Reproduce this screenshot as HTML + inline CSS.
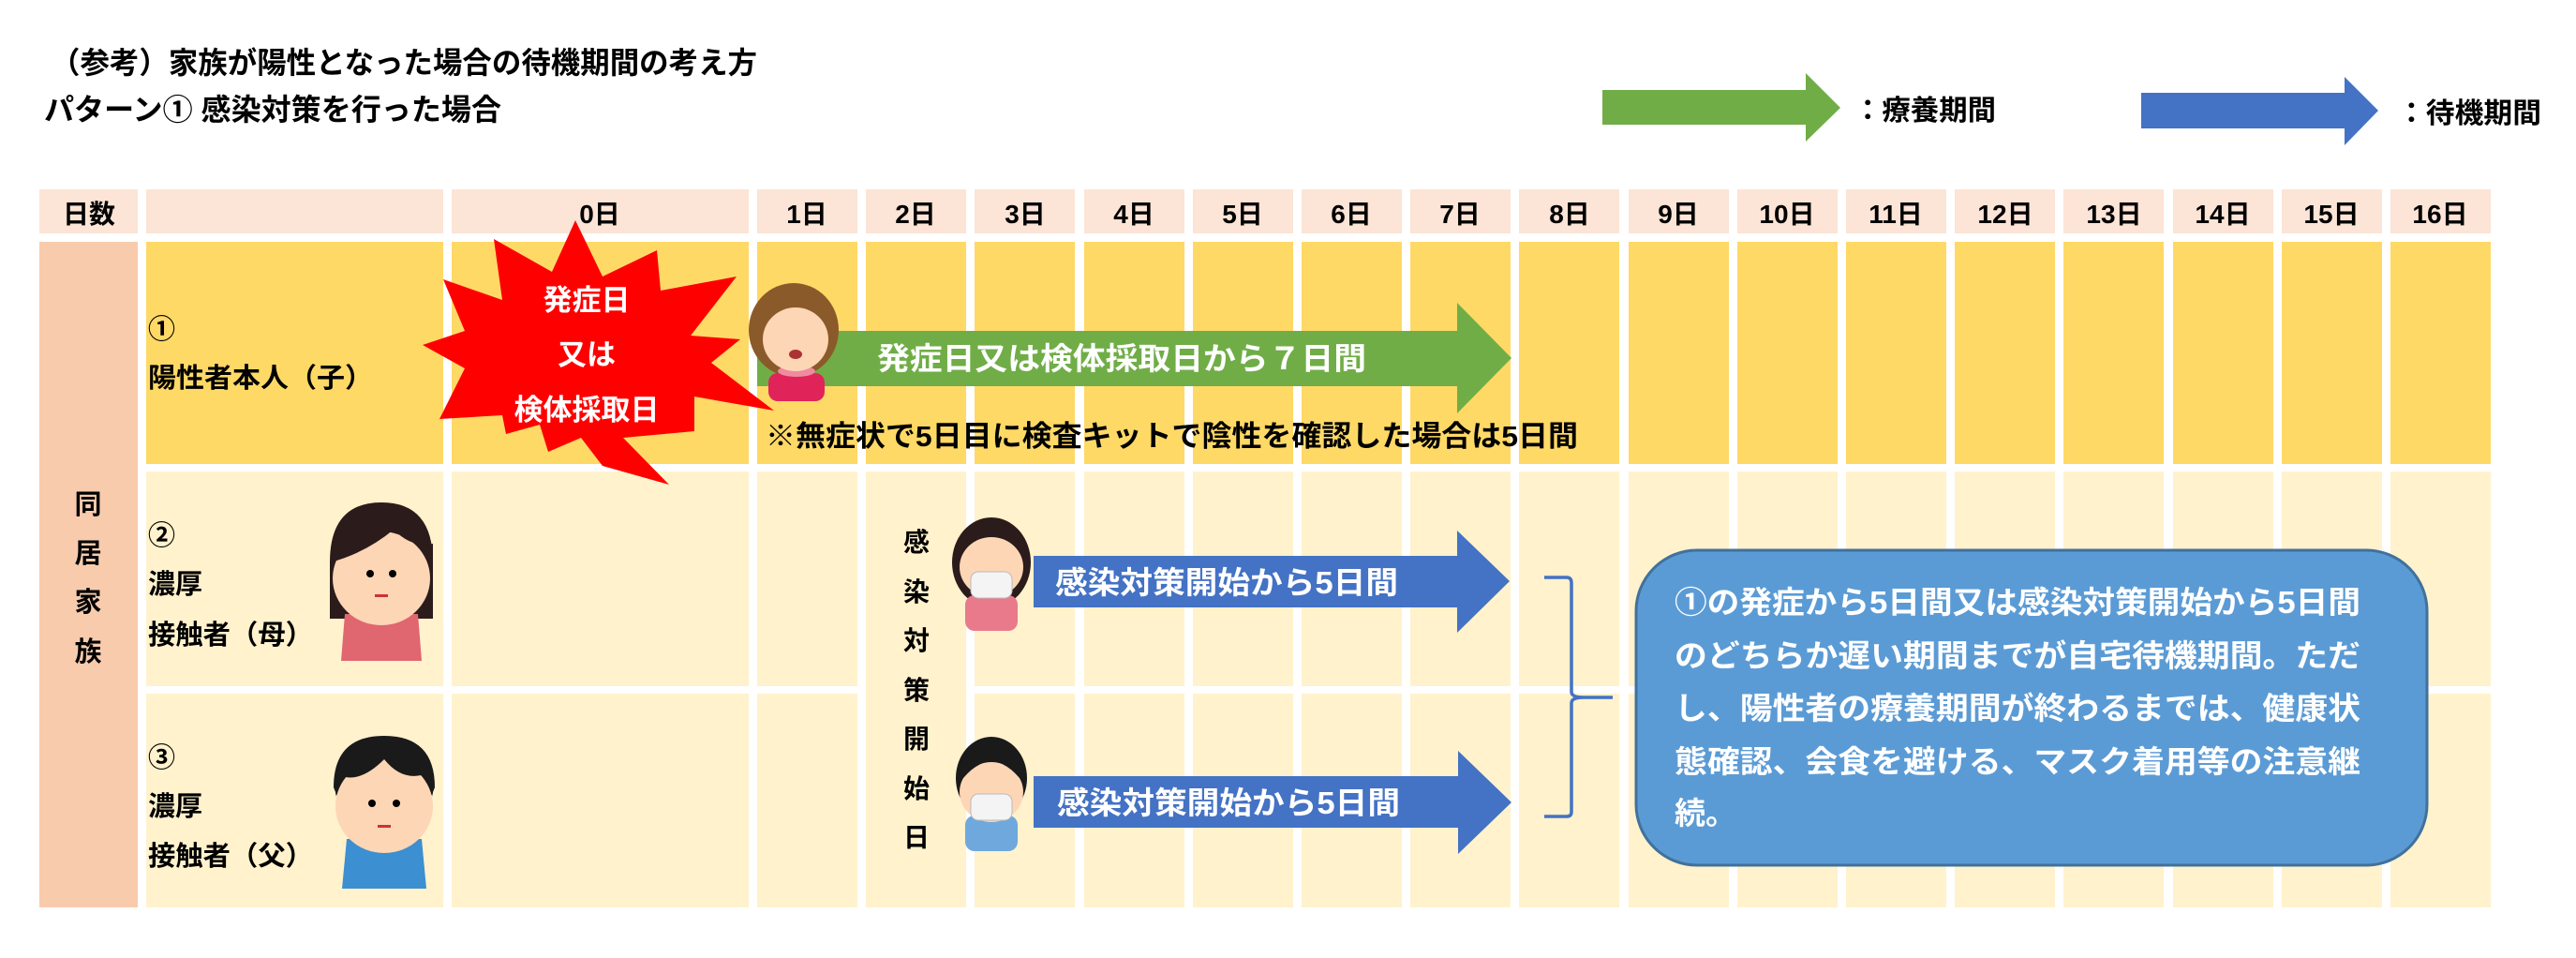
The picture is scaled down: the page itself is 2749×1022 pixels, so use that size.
<!DOCTYPE html>
<html><head><meta charset="utf-8"><style>
html,body{margin:0;padding:0;background:#fff;}
svg{display:block;}
text{font-family:"Liberation Sans","Noto Sans CJK JP",sans-serif;}
.b{font-weight:bold;}
</style></head><body>
<svg width="2749" height="1022" viewBox="0 0 2749 1022" xmlns="http://www.w3.org/2000/svg">
<rect width="2749" height="1022" fill="#fff"/>
<!-- titles -->
<text x="54" y="78" font-size="32" class="b" fill="#000" textLength="754" lengthAdjust="spacingAndGlyphs">（参考）家族が陽性となった場合の待機期間の考え方</text>
<text x="47" y="128" font-size="32" class="b" fill="#000" textLength="488" lengthAdjust="spacingAndGlyphs">パターン① 感染対策を行った場合</text>
<!-- legend -->
<polygon points="1710,96 1927,96 1927,78 1964,115 1927,151 1927,133 1710,133" fill="#70ad47"/>
<text x="1978" y="128" font-size="30" class="b" textLength="152" lengthAdjust="spacingAndGlyphs">：療養期間</text>
<polygon points="2285,99 2502,99 2502,82 2538,118 2502,155 2502,137 2285,137" fill="#4472c4"/>
<text x="2558" y="131" font-size="30" class="b" textLength="154" lengthAdjust="spacingAndGlyphs">：待機期間</text>
<!-- header row -->
<g fill="#fce4d6">
<rect x="42" y="202" width="105" height="47"/>
<rect x="156" y="202" width="317" height="47"/>
<rect x="482" y="202" width="317" height="47"/>
</g>
<!-- body left -->
<rect x="42" y="258" width="105" height="710" fill="#f8cbad"/>
<rect x="156" y="258" width="317" height="237" fill="#ffd966"/>
<rect x="482" y="258" width="317" height="237" fill="#ffd966"/>
<rect x="156" y="503" width="317" height="229" fill="#fff2cc"/>
<rect x="482" y="503" width="317" height="229" fill="#fff2cc"/>
<rect x="156" y="740" width="317" height="228" fill="#fff2cc"/>
<rect x="482" y="740" width="317" height="228" fill="#fff2cc"/>
<g id="days">
<rect x="808" y="202" width="107" height="47" fill="#fce4d6"/><rect x="808" y="258" width="107" height="237" fill="#ffd966"/><rect x="808" y="503" width="107" height="229" fill="#fff2cc"/><rect x="808" y="740" width="107" height="228" fill="#fff2cc"/>
<rect x="924" y="202" width="107" height="47" fill="#fce4d6"/><rect x="924" y="258" width="107" height="237" fill="#ffd966"/><rect x="924" y="503" width="107" height="465" fill="#fff2cc"/>
<rect x="1040" y="202" width="107" height="47" fill="#fce4d6"/><rect x="1040" y="258" width="107" height="237" fill="#ffd966"/><rect x="1040" y="503" width="107" height="229" fill="#fff2cc"/><rect x="1040" y="740" width="107" height="228" fill="#fff2cc"/>
<rect x="1157" y="202" width="107" height="47" fill="#fce4d6"/><rect x="1157" y="258" width="107" height="237" fill="#ffd966"/><rect x="1157" y="503" width="107" height="229" fill="#fff2cc"/><rect x="1157" y="740" width="107" height="228" fill="#fff2cc"/>
<rect x="1273" y="202" width="107" height="47" fill="#fce4d6"/><rect x="1273" y="258" width="107" height="237" fill="#ffd966"/><rect x="1273" y="503" width="107" height="229" fill="#fff2cc"/><rect x="1273" y="740" width="107" height="228" fill="#fff2cc"/>
<rect x="1389" y="202" width="107" height="47" fill="#fce4d6"/><rect x="1389" y="258" width="107" height="237" fill="#ffd966"/><rect x="1389" y="503" width="107" height="229" fill="#fff2cc"/><rect x="1389" y="740" width="107" height="228" fill="#fff2cc"/>
<rect x="1505" y="202" width="107" height="47" fill="#fce4d6"/><rect x="1505" y="258" width="107" height="237" fill="#ffd966"/><rect x="1505" y="503" width="107" height="229" fill="#fff2cc"/><rect x="1505" y="740" width="107" height="228" fill="#fff2cc"/>
<rect x="1621" y="202" width="107" height="47" fill="#fce4d6"/><rect x="1621" y="258" width="107" height="237" fill="#ffd966"/><rect x="1621" y="503" width="107" height="229" fill="#fff2cc"/><rect x="1621" y="740" width="107" height="228" fill="#fff2cc"/>
<rect x="1738" y="202" width="107" height="47" fill="#fce4d6"/><rect x="1738" y="258" width="107" height="237" fill="#ffd966"/><rect x="1738" y="503" width="107" height="229" fill="#fff2cc"/><rect x="1738" y="740" width="107" height="228" fill="#fff2cc"/>
<rect x="1854" y="202" width="107" height="47" fill="#fce4d6"/><rect x="1854" y="258" width="107" height="237" fill="#ffd966"/><rect x="1854" y="503" width="107" height="229" fill="#fff2cc"/><rect x="1854" y="740" width="107" height="228" fill="#fff2cc"/>
<rect x="1970" y="202" width="107" height="47" fill="#fce4d6"/><rect x="1970" y="258" width="107" height="237" fill="#ffd966"/><rect x="1970" y="503" width="107" height="229" fill="#fff2cc"/><rect x="1970" y="740" width="107" height="228" fill="#fff2cc"/>
<rect x="2086" y="202" width="107" height="47" fill="#fce4d6"/><rect x="2086" y="258" width="107" height="237" fill="#ffd966"/><rect x="2086" y="503" width="107" height="229" fill="#fff2cc"/><rect x="2086" y="740" width="107" height="228" fill="#fff2cc"/>
<rect x="2202" y="202" width="107" height="47" fill="#fce4d6"/><rect x="2202" y="258" width="107" height="237" fill="#ffd966"/><rect x="2202" y="503" width="107" height="229" fill="#fff2cc"/><rect x="2202" y="740" width="107" height="228" fill="#fff2cc"/>
<rect x="2319" y="202" width="107" height="47" fill="#fce4d6"/><rect x="2319" y="258" width="107" height="237" fill="#ffd966"/><rect x="2319" y="503" width="107" height="229" fill="#fff2cc"/><rect x="2319" y="740" width="107" height="228" fill="#fff2cc"/>
<rect x="2435" y="202" width="107" height="47" fill="#fce4d6"/><rect x="2435" y="258" width="107" height="237" fill="#ffd966"/><rect x="2435" y="503" width="107" height="229" fill="#fff2cc"/><rect x="2435" y="740" width="107" height="228" fill="#fff2cc"/>
<rect x="2551" y="202" width="107" height="47" fill="#fce4d6"/><rect x="2551" y="258" width="107" height="237" fill="#ffd966"/><rect x="2551" y="503" width="107" height="229" fill="#fff2cc"/><rect x="2551" y="740" width="107" height="228" fill="#fff2cc"/>
</g>
<!-- header labels -->
<g font-size="28" class="b" text-anchor="middle" fill="#000">
<text x="95" y="238">日数</text>
<text x="640" y="238">0日</text>
<text x="861" y="238">1日</text><text x="977" y="238">2日</text><text x="1094" y="238">3日</text><text x="1210" y="238">4日</text>
<text x="1326" y="238">5日</text><text x="1442" y="238">6日</text><text x="1558" y="238">7日</text><text x="1675" y="238">8日</text>
<text x="1791" y="238">9日</text><text x="1907" y="238">10日</text><text x="2023" y="238">11日</text><text x="2140" y="238">12日</text>
<text x="2256" y="238">13日</text><text x="2372" y="238">14日</text><text x="2488" y="238">15日</text><text x="2604" y="238">16日</text>
</g>
<!-- left vertical -->
<g font-size="29" class="b" text-anchor="middle">
<text x="94" y="548">同</text><text x="94" y="600">居</text><text x="94" y="652">家</text><text x="94" y="705">族</text>
</g>
<!-- row labels -->
<g font-size="29" class="b">
<text x="158" y="361">①</text><text x="158" y="413" textLength="240" lengthAdjust="spacingAndGlyphs">陽性者本人（子）</text>
<text x="158" y="581">②</text><text x="158" y="633">濃厚</text><text x="158" y="687" textLength="176" lengthAdjust="spacingAndGlyphs">接触者（母）</text>
<text x="158" y="818">③</text><text x="158" y="870">濃厚</text><text x="158" y="923" textLength="176" lengthAdjust="spacingAndGlyphs">接触者（父）</text>
</g>
<!-- vertical 感染対策開始日 -->
<g font-size="28" class="b" text-anchor="middle">
<text x="978" y="588">感</text><text x="978" y="641">染</text><text x="978" y="693">対</text><text x="978" y="746">策</text><text x="978" y="798">開</text><text x="978" y="851">始</text><text x="978" y="903">日</text>
</g>
<!-- starburst -->
<polygon fill="#ff0000" points="614,235 643,295 701,267 705,310 786,295 737,358 790,362 759,387 826,438 741,423 741,460 665,467 714,517 643,497 620,467 585,482 576,453 540,463 536,443 469,447 496,393 451,368 496,353 473,298 536,320 527,255 589,290"/>
<g font-size="31" class="b" fill="#fff" text-anchor="middle">
<text x="626" y="331">発症日</text><text x="626" y="389">又は</text><text x="626" y="448">検体採取日</text>
</g>
<!-- green arrow row1 -->
<polygon points="808,353 1555,353 1555,323 1613,382 1555,441 1555,412 808,412" fill="#70ad47"/>
<text x="936" y="394" font-size="33" class="b" fill="#fff" textLength="522" lengthAdjust="spacingAndGlyphs">発症日又は検体採取日から７日間</text>
<text x="817" y="476" font-size="31" class="b" textLength="867" lengthAdjust="spacingAndGlyphs">※無症状で5日目に検査キットで陰性を確認した場合は5日間</text>
<!-- girl -->
<g>
<ellipse cx="847" cy="352" rx="48" ry="50" fill="#8b5a2b"/>
<rect x="820" y="398" width="60" height="30" rx="10" fill="#e0245a"/>
<ellipse cx="850" cy="396" rx="20" ry="6" fill="#f08aa0"/>
<ellipse cx="849" cy="362" rx="35" ry="34" fill="#fcd6b5"/>
<path d="M812,345 Q849,300 886,345 L886,325 Q849,290 812,325 Z" fill="#8b5a2b"/>
<ellipse cx="849" cy="378" rx="7" ry="5" fill="#a33"/>
</g>
<!-- blue arrows -->
<polygon points="1103,593 1555,593 1555,566 1611,620 1555,675 1555,648 1103,648" fill="#4472c4"/>
<text x="1126" y="633" font-size="33" class="b" fill="#fff" textLength="366" lengthAdjust="spacingAndGlyphs">感染対策開始から5日間</text>
<polygon points="1103,828 1556,828 1556,801 1613,856 1556,911 1556,883 1103,883" fill="#4472c4"/>
<text x="1128" y="868" font-size="33" class="b" fill="#fff" textLength="366" lengthAdjust="spacingAndGlyphs">感染対策開始から5日間</text>
<!-- masked mother -->
<g>
<ellipse cx="1058" cy="600" rx="42" ry="48" fill="#2b1b1b"/>
<rect x="1030" y="635" width="56" height="38" rx="10" fill="#e87a8c"/>
<ellipse cx="1058" cy="605" rx="34" ry="32" fill="#fcd6b5"/>
<path d="M1022,595 Q1058,545 1094,595 L1094,575 Q1058,540 1022,575 Z" fill="#2b1b1b"/>
<rect x="1036" y="610" width="44" height="28" rx="8" fill="#f4f4f4" stroke="#bbb"/>
</g>
<!-- masked father -->
<g>
<ellipse cx="1058" cy="830" rx="38" ry="44" fill="#1a1a1a"/>
<rect x="1030" y="870" width="56" height="38" rx="10" fill="#6fa8dc"/>
<ellipse cx="1058" cy="845" rx="34" ry="32" fill="#fcd6b5"/>
<path d="M1024,835 Q1058,790 1092,835 L1092,815 Q1058,780 1024,815 Z" fill="#1a1a1a"/>
<rect x="1036" y="847" width="44" height="28" rx="8" fill="#f4f4f4" stroke="#bbb"/>
</g>
<!-- mother -->
<g>
<path d="M352,600 Q352,536 407,536 Q462,536 462,600 L462,660 L352,660 Z" fill="#2b1b1b"/>
<path d="M368,655 L446,655 L450,705 L364,705 Z" fill="#e06670"/>
<ellipse cx="407" cy="617" rx="52" ry="50" fill="#fcd6b5"/>
<path d="M352,605 Q360,540 407,540 Q455,540 462,605 L462,580 Q440,585 420,565 Q390,590 352,600 Z" fill="#2b1b1b"/>
<circle cx="395" cy="612" r="4"/><circle cx="419" cy="612" r="4"/>
<rect x="400" y="634" width="14" height="3" fill="#c33"/>
</g>
<!-- father -->
<g>
<path d="M356,840 Q356,785 410,785 Q464,785 464,840 L460,850 L360,850 Z" fill="#1a1a1a"/>
<path d="M370,895 L450,895 L455,948 L365,948 Z" fill="#3c8fd0"/>
<ellipse cx="410" cy="860" rx="52" ry="50" fill="#fcd6b5"/>
<path d="M358,850 Q360,790 410,790 Q462,790 462,850 L456,825 Q430,835 410,810 Q385,835 364,828 Z" fill="#1a1a1a"/>
<circle cx="397" cy="857" r="4"/><circle cx="423" cy="857" r="4"/>
<rect x="403" y="880" width="14" height="3" fill="#c33"/>
</g>
<!-- bracket -->
<path d="M1648,616 L1672,616 Q1677,616 1677,622 L1677,738 Q1677,744 1690,744 L1721,744 L1690,744 Q1677,744 1677,750 L1677,866 Q1677,871 1672,871 L1648,871" fill="none" stroke="#4472c4" stroke-width="3.5"/>
<!-- note box -->
<rect x="1746" y="587" width="844" height="336" rx="65" fill="#5b9bd5" stroke="#41719c" stroke-width="3"/>
<g font-size="33" class="b" fill="#fff">
<text x="1787" y="654" textLength="732" lengthAdjust="spacingAndGlyphs">①の発症から5日間又は感染対策開始から5日間</text>
<text x="1787" y="711" textLength="732" lengthAdjust="spacingAndGlyphs">のどちらか遅い期間までが自宅待機期間。ただ</text>
<text x="1787" y="767" textLength="732" lengthAdjust="spacingAndGlyphs">し、陽性者の療養期間が終わるまでは、健康状</text>
<text x="1787" y="824" textLength="732" lengthAdjust="spacingAndGlyphs">態確認、会食を避ける、マスク着用等の注意継</text>
<text x="1787" y="879">続。</text>
</g>
</svg>
</body></html>
